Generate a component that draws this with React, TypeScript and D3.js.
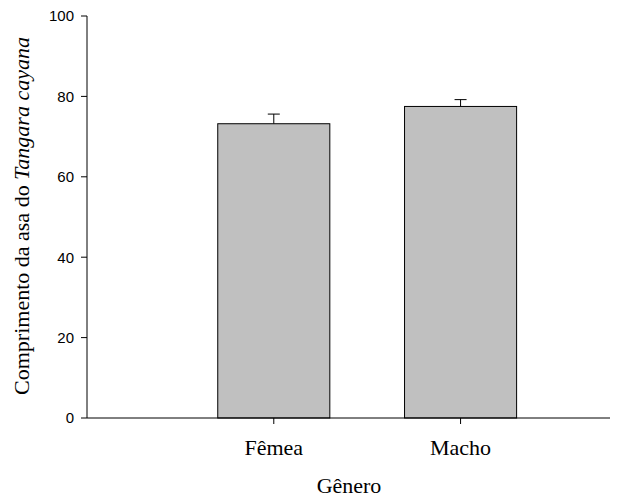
import React from "react";
import * as d3 from "d3";

const categories = ["Fêmea", "Macho"];
const means = [73.2, 77.5];
const errors = [2.4, 1.7];
const yTicks = [0, 20, 40, 60, 80, 100];

export default function App() {
  const W = 638, H = 497;
  const x = d3.scaleLinear().domain([0, 2.8]).range([87, 610]);
  const y = d3.scaleLinear().domain([0, 100]).range([418, 16]);
  const bw = x(0.6) - x(0);
  const serif = "Liberation Serif, Times New Roman, serif";
  return (
    <svg width={W} height={H} style={{ position: "absolute", left: 0, top: 0 }}>
      <rect width={W} height={H} fill="white" />
      {categories.map((c, i) => {
        const cx = x(i + 1);
        return (
          <g key={c}>
            <line x1={cx} x2={cx} y1={y(means[i])} y2={y(means[i] + errors[i])} stroke="black" strokeWidth={1} />
            <line x1={cx - 6} x2={cx + 6} y1={y(means[i] + errors[i])} y2={y(means[i] + errors[i])} stroke="black" strokeWidth={1} />
            <rect x={cx - bw / 2} y={y(means[i])} width={bw} height={y(0) - y(means[i])} fill="#c0c0c0" stroke="black" strokeWidth={1} />
            <line x1={cx} x2={cx} y1={y(0)} y2={y(0) + 6} stroke="black" />
            <text x={cx} y={455} textAnchor="middle" fontFamily={serif} fontSize={22}>{c}</text>
          </g>
        );
      })}
      <line x1={x(0)} x2={x(2.8)} y1={y(0)} y2={y(0)} stroke="black" />
      <line x1={x(0)} x2={x(0)} y1={y(0)} y2={y(100)} stroke="black" />
      {yTicks.map((t) => (
        <g key={t}>
          <line x1={x(0) - 6} x2={x(0)} y1={y(t)} y2={y(t)} stroke="black" />
          <text x={74} y={y(t)} dy="0.36em" textAnchor="end" fontFamily="Liberation Sans, Arial, sans-serif" fontSize={15}>{t}</text>
        </g>
      ))}
      <text x={349} y={493} textAnchor="middle" fontFamily={serif} fontSize={22}>Gênero</text>
      <text transform={`translate(29,216) rotate(-90)`} textAnchor="middle" fontFamily={serif} fontSize={22}>
        Comprimento da asa do <tspan fontStyle="italic">Tangara cayana</tspan>
      </text>
    </svg>
  );
}
